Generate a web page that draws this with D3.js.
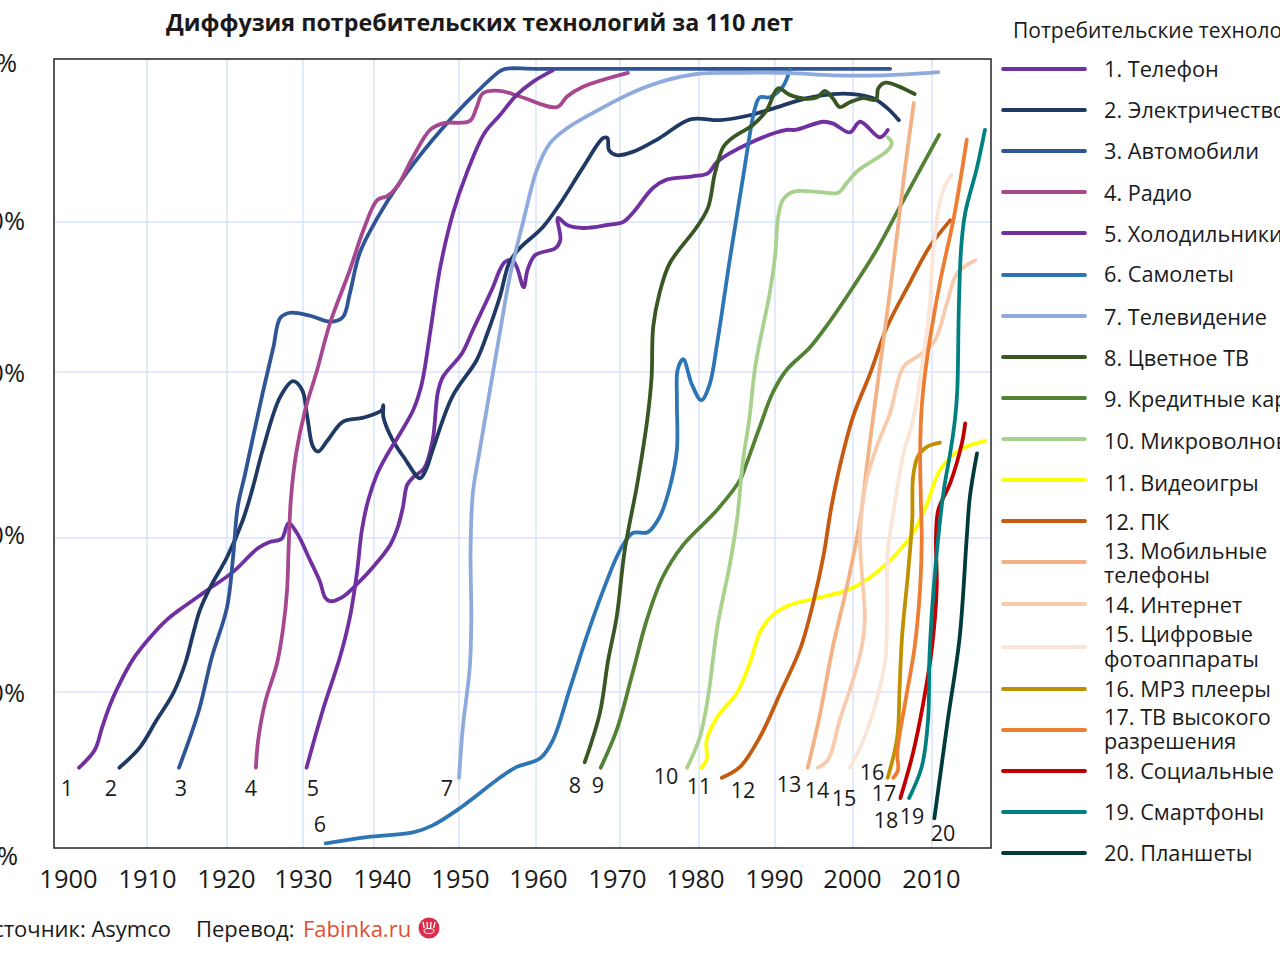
<!DOCTYPE html>
<html lang="ru"><head><meta charset="utf-8">
<script src="https://cdn.jsdelivr.net/npm/d3@7/dist/d3.min.js"></script>
<style>html,body{margin:0;padding:0;background:#fff;overflow:hidden}svg{display:block}text{font-family:"Open Sans","Noto Sans",sans-serif;fill:#1a1a1a}</style>
</head><body><svg id="c" width="1280" height="960"></svg>
<script>
const titleText="Диффузия потребительских технологий за 110 лет";
const legendTitle="Потребительские технологии";
const tickYears=[1900,1910,1920,1930,1940,1950,1960,1970,1980,1990,2000,2010];
const tickPcts=[0,20,40,60,80,100];
const seriesNames=[["1. Телефон"],["2. Электричество"],["3. Автомобили"],["4. Радио"],["5. Холодильники"],["6. Самолеты"],["7. Телевидение"],["8. Цветное ТВ"],["9. Кредитные карты"],["10. Микроволновки"],["11. Видеоигры"],["12. ПК"],["13. Мобильные","телефоны"],["14. Интернет"],["15. Цифровые","фотоаппараты"],["16. MP3 плееры"],["17. ТВ высокого","разрешения"],["18. Социальные сети"],["19. Смартфоны"],["20. Планшеты"]];
const seriesColors=["#7030a0","#1f3864","#2f5597","#a6478f","#7030a0","#2e75b6","#8faadc","#385723","#548235","#a9d18e","#ffff00","#c55a11","#f4b183","#f8cbad","#fbe5d6","#bf9000","#ed7d31","#c00000","#008080","#003b3b"];

const telephone=[[1901.4,10.3],[1903.4,12.6],[1904.3,15.4],[1905.3,18.3],[1906.3,20.6],[1908.2,24.2],[1910.4,27.1],[1912.5,29.4],[1914.5,31],[1917.5,33.2],[1920.8,35.6],[1924.1,38.7],[1925.7,39.5],[1927.2,39.9],[1928.1,41.8],[1929.2,40.6],[1931,37.1],[1932.4,34.3],[1933.1,32.3],[1933.8,31.8],[1935.5,32.3],[1937.6,34],[1940.1,36.5],[1941.9,39.1],[1942.8,41.3],[1943.4,43.7],[1943.9,46.4],[1944.6,47.3],[1945.9,48.4],[1946.9,51.8],[1947.5,57.5],[1948.1,59.4],[1950.4,62.5],[1951.8,65.6],[1954.4,71.3],[1955.3,73.6],[1956,74.7],[1956.9,74.9],[1957.5,74],[1958.4,71.3],[1958.9,73.6],[1959.9,75.6],[1962.3,76.5],[1962.9,77.6],[1962.6,80.5],[1963.7,79.6],[1965.6,79.2],[1968.5,79.6],[1970.4,80],[1971.6,81.1],[1974.2,84.2],[1975.9,85.2],[1979.2,85.6],[1981.2,86],[1982.4,87.4],[1986.7,89.7],[1991.5,91.3],[1992.6,91.3],[1996.2,92.3],[1997.4,92.1],[1999.6,91],[2000.9,92.3],[2003.4,90.4],[2004.4,91.3]];
const electricity=[[1906.5,10.3],[1909.1,12.9],[1911.2,16.4],[1913.3,19.9],[1914.8,23.8],[1915.8,27.7],[1916.6,30.6],[1917.9,33.6],[1920,37.5],[1922.1,42.2],[1923.4,46.1],[1924.7,50.6],[1927,57],[1928.7,58.9],[1929.9,57.8],[1930.6,54.6],[1931.4,51],[1932.1,50.4],[1933.5,51.8],[1935.6,54],[1938.5,54.5],[1940.9,55.4],[1941.1,56],[1941.1,54.6],[1942.2,51.8],[1943.6,49.6],[1945.4,47.2],[1946.1,48.2],[1946.9,50.6],[1949.2,57],[1952.3,61.6],[1953.7,65.2],[1955.3,70],[1956.5,74.5],[1957.7,76.3],[1960.8,79.3],[1962.9,82.3],[1965.6,86.7],[1968,90.3],[1968.5,90.3],[1968.7,88.8],[1969.6,88.2],[1971.6,88.6],[1975,90.3],[1978.9,92.6],[1982.8,92.5],[1986.7,93.1],[1990.3,94.1],[1994.1,95.2],[1997.4,95.7],[2000,95.7],[2002.5,95.2],[2004.3,94],[2005.8,92.5]];
const automobiles=[[1914,10.3],[1916.5,17.7],[1918.1,24.5],[1920,31],[1920.8,37.5],[1921.4,43.7],[1922.4,47.8],[1924.7,57.5],[1926.1,63.3],[1927,67.2],[1928.3,67.9],[1931,67.5],[1933.8,66.7],[1935.6,67.3],[1936.6,70.5],[1938,75.9],[1940.4,80.5],[1943,84.8],[1946.9,90.1],[1951,94.7],[1955.3,98.5],[1956,98.8],[1960,98.8],[1980,98.8],[2000,98.8],[2004.7,98.8]];
const radio=[[1923.8,10.3],[1924.1,13.8],[1925,18.6],[1926.6,23.8],[1927.4,28.4],[1927.9,33.2],[1928.1,38.4],[1928.4,44.6],[1929.1,50.2],[1930.3,55.4],[1932,60.3],[1933.8,66.5],[1936.6,73.6],[1938.5,78.9],[1940.4,82.7],[1941.6,83.2],[1942.7,84.3],[1944.6,88],[1946.6,91.3],[1948.1,92.1],[1951.4,92.4],[1952.3,94.1],[1953.1,95.8],[1955.3,96.1],[1957.9,95.4],[1962.5,94.1],[1963.7,95.4],[1965.6,96.6],[1971,98.3]];
const refrigerators=[[1930.5,10.3],[1932.8,17.7],[1935.2,24.5],[1936.6,29.7],[1937.6,35.5],[1938.3,41],[1939.2,44.6],[1940.4,47.8],[1941.3,49.6],[1944.6,55.4],[1945.6,58.5],[1946.6,65.2],[1947.8,74],[1949.3,81.1],[1951,86],[1953.3,90.9],[1955.3,93.1],[1957.5,95.6],[1959.6,97.2],[1962,98.6]];
const airplanes=[[1933.2,0.6],[1939,1.4],[1944.6,2],[1946.9,2.9],[1950.1,5.1],[1955.3,9],[1957.5,10.4],[1960.5,11.5],[1962,13.8],[1964,20.3],[1966,27.1],[1968,33.2],[1970,38.4],[1971.6,40.6],[1973.5,40.7],[1975,42.5],[1976.3,46.1],[1977.2,50.6],[1977.2,56.6],[1977.3,60.3],[1978,61.7],[1979.1,58.5],[1980.3,56.6],[1981.4,58.5],[1982.4,63.9],[1984.1,75.3],[1985.8,85.5],[1987.4,94.1],[1988,95.3],[1989.3,95.3],[1991,96.6],[1991.9,98.7]];
const television=[[1950,9],[1950.5,15.5],[1951.4,23.2],[1951.6,29.7],[1951.5,38.4],[1951.8,45.4],[1952.7,50.6],[1955.3,65.2],[1956.6,72.7],[1958.3,79.9],[1960.1,86.4],[1961.7,89.7],[1963.7,91.5],[1966.8,93.4],[1971.6,95.9],[1975.9,97.4],[1980.1,98.2],[1984.5,98.3],[1991.5,98.3],[1997.4,98],[2003.8,98],[2010.8,98.4]];
const colorTv=[[1965.8,11],[1967.6,17.3],[1968.6,24.2],[1969.6,29.7],[1970.6,38.4],[1972.2,46.6],[1973.5,54.6],[1974,59.4],[1974.2,66],[1975,70.5],[1976.3,74.5],[1979.7,79.3],[1981.2,81.8],[1982.1,86],[1983.2,89.2],[1984.5,90.4],[1987.1,91.9],[1988.9,93.7],[1990.4,96.4],[1991.9,95.6],[1994.1,95.1],[1995.4,95.3],[1996.4,96.1],[1997.4,95.2],[1998.3,94.1],[1999.6,94.7],[2001.3,95.2],[2002.9,95],[2003.2,96.4],[2004.1,97.1],[2007.8,95.7]];
const creditCards=[[1967.7,10.3],[1969.6,15.1],[1971.6,22.5],[1973.4,29.4],[1975.4,34.9],[1978,39.1],[1982.4,43.4],[1985.4,47],[1986.1,48.6],[1988,53.4],[1989.7,57.5],[1991.5,60.3],[1994.5,63.3],[1997,66.7],[2000,71.3],[2003,76.3],[2005.9,81.8],[2010.9,90.7]];
const microwaves=[[1978.5,10.3],[1980.1,14.2],[1981.2,19.4],[1982.4,28.4],[1984.1,36.8],[1985,42.2],[1985.8,49.4],[1986.6,54.2],[1987.4,60.7],[1989.3,70.5],[1990,75.3],[1990.4,80.6],[1991,82.7],[1992.3,83.7],[1995.4,83.7],[1998.1,83.6],[1999.2,84.8],[2000.5,86.2],[2004.4,88.8],[2004.9,89.7],[2004.4,90.4]];
const videoGames=[[1980.3,10.3],[1981,11.3],[1981,13.8],[1982.4,16.8],[1985,19.9],[1986.7,23.8],[1988,27.7],[1989.7,30],[1991.9,31.3],[1995.4,32.2],[1999.2,33.2],[2001.3,34.3],[2004.7,37.1],[2007.6,40.6],[2009.4,44.2],[2011,48.2],[2013.5,50.6],[2016.7,51.7]];
const personalComputers=[[1983,9],[1985.4,10.4],[1988,14.2],[1990.7,19.9],[1993.3,25.8],[1994.9,31.6],[1996.2,37.6],[1997.2,43.6],[1998.4,49],[2000,54.6],[2002.2,59.9],[2004.3,66],[2007.2,71.9],[2009.7,76.7],[2012.3,80.2]];
const mobilePhones=[[1994.2,10.3],[1995.8,17.3],[1997.4,25.8],[1999.2,33.6],[2000.9,42.2],[2001.8,49],[2002.5,54.2],[2003.4,60.7],[2004.7,70.9],[2005.6,78.5],[2006.6,86.7],[2007.7,94.6]];
const internet=[[1995.5,10.3],[1996.8,11.3],[1998.3,16.4],[2000,21.6],[2001.1,25.8],[2001.5,29.4],[2001.1,35.8],[2000.9,40.1],[2001.5,46.1],[2003,51],[2004.7,55.1],[2006.4,60.7],[2008.5,62.3],[2010.4,64.3],[2011.9,69.2],[2013.2,73.2],[2015.5,74.9]];
const digitalCameras=[[1999.6,10.3],[2001.3,13.8],[2003,19],[2004.1,24.2],[2004.3,29.4],[2004.4,38],[2005.3,44.2],[2006.4,50.2],[2007.6,54.2],[2008.9,62],[2009.7,68.7],[2010.1,75.3],[2010.8,81.5],[2011.6,84.3],[2012.5,85.8]];
const mp3Players=[[2004.4,9],[2005.6,14.2],[2005.9,20.6],[2006.2,27.1],[2007,35.8],[2007.5,42.2],[2007.6,47.3],[2008.2,49.8],[2009.4,51],[2011,51.5]];
const hdTv=[[2005.1,9],[2005.7,10],[2005.6,12.2],[2006.6,18.6],[2007.8,25.8],[2008.5,33.6],[2008.7,40.1],[2008.6,44.2],[2008.5,50.2],[2008.7,55.8],[2009.4,62],[2011,71.9],[2012.7,80.2],[2013.6,85.2],[2014.4,90.1]];
const socialMedia=[[2006,6.4],[2007.6,12.2],[2008.9,18.6],[2010,25.8],[2010.6,33.6],[2010.5,40.1],[2010.8,43.4],[2012.3,46.6],[2013.8,51.5],[2014.2,53.8]];
const smartphones=[[2007.1,6.4],[2008.7,10.4],[2009.5,16.4],[2009.7,25.1],[2010.4,35.8],[2011.5,45.8],[2012.3,50.2],[2012.9,54.2],[2013.2,57.8],[2013.4,68.7],[2013.7,76.7],[2014.2,81.1],[2015.7,86.7],[2016.7,91.3]];
const tablets=[[2010.3,3.8],[2012,16.4],[2013.5,27.1],[2014.4,40.1],[2014.8,45],[2015.7,50.2]];
const allSeries=[telephone,electricity,automobiles,radio,refrigerators,airplanes,television,colorTv,creditCards,microwaves,videoGames,personalComputers,mobilePhones,internet,digitalCameras,mp3Players,hdTv,socialMedia,smartphones,tablets];

const frame={l:54,t:59,r:991,b:848};
const svg=d3.select("#c");
// the source image has unevenly spaced gridlines, so the scales are piecewise
const x=d3.scaleLinear().domain(tickYears).range([68,147,227,303,374,459,536,620,699,775,853,932]);
const y=d3.scaleLinear().domain(tickPcts).range([848,692,538,372,222,59]);
const xLabel=d3.scaleLinear().domain(tickYears).range([68,147,226,303,382,460,538,617,695,774,852,931]);
const yLabel=d3.scaleLinear().domain(tickPcts).range([855,692,534,372,220,62]);

const grid=svg.append("g").attr("stroke","#d9e3fb").attr("stroke-width",1.5);
grid.selectAll("line.v").data(tickYears.slice(1)).join("line").attr("class","v").attr("x1",d=>x(d)).attr("x2",d=>x(d)).attr("y1",frame.t).attr("y2",frame.b);
grid.selectAll("line.h").data(tickPcts.slice(1,5)).join("line").attr("class","h").attr("x1",frame.l).attr("x2",frame.r).attr("y1",d=>y(d)).attr("y2",d=>y(d));
svg.append("rect").attr("x",frame.l).attr("y",frame.t).attr("width",frame.r-frame.l).attr("height",frame.b-frame.t).attr("fill","none").attr("stroke","#222").attr("stroke-width",1.5);

const xAxis=svg.append("g").attr("transform","translate(0,879)").call(d3.axisBottom(xLabel).tickValues(tickYears).tickFormat(d3.format("d")).tickSize(0).tickPadding(0));
xAxis.select(".domain").remove();
xAxis.selectAll("text").attr("y",0).attr("dy","0.36em").style("font-size","25.5px").style("font-family",'"Open Sans"').attr("fill","#1a1a1a");
const yAxis=svg.append("g").call(d3.axisLeft(yLabel).tickValues(tickPcts).tickFormat(d=>d+"%").tickSize(0));
yAxis.select(".domain").remove();
yAxis.selectAll("text").attr("x",d=>d===100?17:d===0?18:25).attr("dy","0.36em").style("font-size","25.5px").style("font-family",'"Open Sans"').attr("fill","#1a1a1a");

const line=d3.line().x(d=>x(d[0])).y(d=>y(d[1])).curve(d3.curveCatmullRom.alpha(0.5));
svg.append("g").attr("fill","none").attr("stroke-width",3.8).attr("stroke-linecap","round").attr("stroke-linejoin","round")
 .selectAll("path").data(allSeries).join("path").attr("d",line).attr("stroke",(d,i)=>seriesColors[i]);

const numberPos=[[67,788],[111,788],[181,788],[251,788],[313,788],[320,824],[447,788],[575,785],[598,785],[666,776],[699,786],[743,790],[789,784],[817,790],[844,798],[872,772],[884,793],[886,820],[912,816],[943,833]];
svg.append("g").selectAll("text").data(numberPos).join("text").attr("x",d=>d[0]).attr("y",d=>d[1]).attr("dy","0.36em").attr("text-anchor","middle").style("font-size","21.5px").text((d,i)=>i+1);

svg.append("text").attr("x",479.5).attr("y",23).attr("dy","0.36em").attr("text-anchor","middle").style("font-size","23.3px").style("font-weight",700).text(titleText);
svg.append("text").attr("x",1013).attr("y",30).attr("dy","0.36em").style("font-size","21px").text(legendTitle);

const legendLineY=[69,110,151,192,233,275,316,357,398,439,480,521,562,604,647,689,730,771,812,853];
const legendTextY=[[69],[110],[151],[193],[234],[274],[317],[358],[399],[441],[483],[522],[551,575],[605],[634,659],[689],[717,741],[771],[812],[853]];
const leg=svg.append("g").selectAll("g").data(seriesNames).join("g");
leg.append("line").attr("x1",1003).attr("x2",1085).attr("y1",(d,i)=>legendLineY[i]).attr("y2",(d,i)=>legendLineY[i]).attr("stroke",(d,i)=>seriesColors[i]).attr("stroke-width",3.8).attr("stroke-linecap","round");
leg.each(function(names,i){d3.select(this).selectAll("text").data(names).join("text").attr("x",1104).attr("y",(d,j)=>legendTextY[i][j]).attr("dy","0.36em").style("font-size","21.7px").text(d=>d);});

svg.append("text").attr("x",171).attr("y",929).attr("dy","0.36em").attr("text-anchor","end").style("font-size","22px").text("Источник: Asymco");
svg.append("text").attr("x",196).attr("y",929).attr("dy","0.36em").style("font-size","22px").text("Перевод:");
svg.append("text").attr("x",303).attr("y",929).attr("dy","0.36em").style("font-size","22px").style("fill","#e0502f").text("Fabinka.ru");
const paw=svg.append("g").attr("transform","translate(429,928)");
paw.append("circle").attr("r",10.5).attr("fill","#d92f4d");
paw.selectAll("line").data([-6,-2,2,6]).join("line").attr("x1",d=>d).attr("x2",d=>d*0.8).attr("y1",-6).attr("y2",0).attr("stroke","#fff").attr("stroke-width",1.3);
paw.append("ellipse").attr("cx",0).attr("cy",3).attr("rx",5).attr("ry",2.5).attr("fill","none").attr("stroke","#fff").attr("stroke-width",1);
</script></body></html>
